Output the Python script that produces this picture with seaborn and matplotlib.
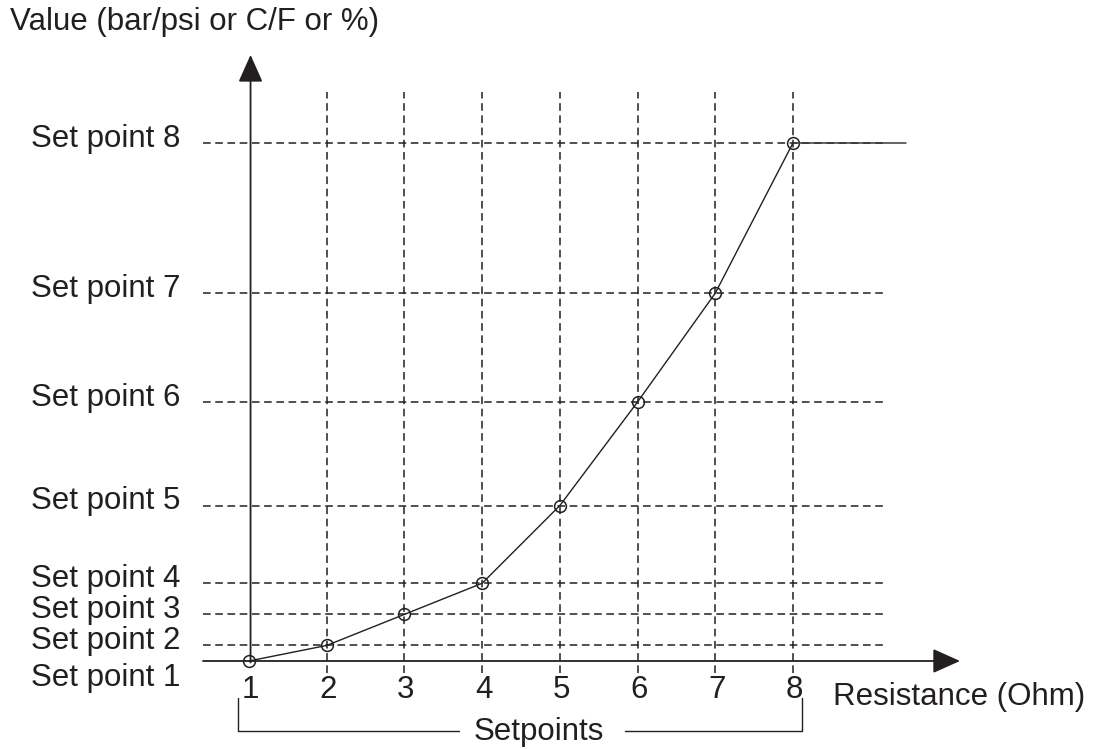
import numpy as np
import pandas as pd
import matplotlib
matplotlib.use("Agg")
import matplotlib.pyplot as plt
import seaborn as sns

# Data
setpoint_idx = [1, 2, 3, 4, 5, 6, 7, 8]
setpoint_value = [0, 3, 9, 15, 30, 50, 71, 100]
y_labels = [f"Set point {i}" for i in setpoint_idx]
x_labels = [str(i) for i in setpoint_idx]
x_title = "Resistance (Ohm)"
y_title = "Value (bar/psi or C/F or %)"
bracket_label = "Setpoints"

INK = "#231f20"
FS = 22.5

sns.set_style("white")
plt.rcParams["font.family"] = ["Liberation Sans", "DejaVu Sans"]

fig = plt.figure(figsize=(10.93, 7.49), dpi=100)
ax = fig.add_axes([0, 0, 1, 1])
ax.axis("off")
ax.set_xlim(-2.204, 11.861)
ax.set_ylim(-16.99, 127.6)

df = pd.DataFrame({"idx": setpoint_idx, "value": setpoint_value})
x_end = 9.45
y_top = 109.8

dash = (0, (5, 3))
# grid of dashed guide lines
ax.hlines(df["value"][1:], 0.408, 9.21, colors=INK, linestyles=dash, lw=1.1)
ax.vlines(df["idx"][1:], -2.3, y_top, colors=INK, linestyles=dash, lw=1.1)

# axes with arrows
arrow = dict(arrowstyle="-|>,head_length=0.85,head_width=0.38", color=INK,
             lw=1.3, shrinkA=0, shrinkB=0, mutation_scale=20)
ax.annotate("", xy=(10.15, 0), xytext=(0.408, 0), arrowprops=arrow)
ax.annotate("", xy=(1.02, 117.0), xytext=(1.02, -0.3), arrowprops=arrow)

# curve
sns.lineplot(data=df, x="idx", y="value", ax=ax, color=INK, lw=1.0,
             marker="o", ms=8.5, mfc="none", mec=INK, mew=1.1, clip_on=False)
ax.plot([df["idx"].iloc[-1], x_end], [df["value"].iloc[-1]] * 2,
        color="#3a3a3a", lw=1.1)

# labels
for i, (v, lab) in enumerate(zip(setpoint_value, y_labels)):
    yy = v + 0.8 if i > 0 else v - 3.3
    ax.text(0.12, yy, lab, ha="right", va="center", fontsize=FS, color=INK)
for xi, lab in zip(setpoint_idx, x_labels):
    ax.text(xi + 0.02, -5.6, lab, ha="center", va="center", fontsize=FS,
            color=INK)

ax.text(8.51, -6.9, x_title, ha="left", va="center", fontsize=FS, color=INK)
fig.text(0.009, 0.970, y_title, ha="left", va="center", fontsize=FS,
         color=INK)

# bracket under the x ticks
by_top, by_bot = -7.1, -13.5
ax.plot([0.86, 0.86, 3.70], [by_top, by_bot, by_bot], color=INK, lw=1.0)
ax.plot([5.84, 8.12, 8.12], [by_bot, by_bot, by_top], color=INK, lw=1.0)
ax.text(4.73, -15.3, bracket_label, ha="center", va="baseline", fontsize=FS,
        color=INK)

fig.savefig("out.png", dpi=100)
